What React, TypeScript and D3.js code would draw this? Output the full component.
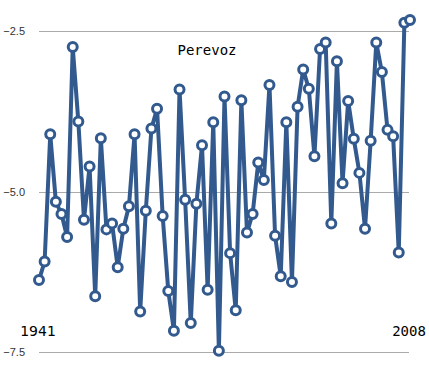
import React, { useEffect, useRef } from "react";
import * as d3 from "d3";

// Perevoz series, one value per year
const values: number[] = [
  -6.38, -6.09, -4.11, -5.16, -5.35, -5.71, -2.75, -3.91, -5.44, -4.61,
  -6.63, -4.17, -5.59, -5.5, -6.18, -5.58, -5.23, -4.11, -6.87, -5.3,
  -4.02, -3.71, -5.38, -6.55, -7.17, -3.41, -5.13, -7.05, -5.19, -4.28,
  -6.53, -3.92, -7.48, -3.52, -5.96, -6.85, -3.58, -5.64, -5.35, -4.55,
  -4.82, -3.34, -5.69, -6.32, -3.92, -6.41, -3.68, -3.1, -3.4, -4.45,
  -2.78, -2.68, -5.5, -2.97, -4.87, -3.59, -4.18, -4.71, -5.58, -4.21,
  -2.68, -3.14, -4.04, -4.14, -5.95, -2.37, -2.33,
];
const yTicks: number[] = [-2.5, -5.0, -7.5];
const startLabel = "1941";
const endLabel = "2008";
const title = "Perevoz";

const App = () => {
  const ref = useRef<SVGSVGElement>(null);

  useEffect(() => {
    const width = 429;
    const height = 368;
    const svg = d3.select(ref.current);
    svg.selectAll("*").remove();

    const x = d3
      .scaleLinear()
      .domain([0, values.length - 1])
      .range([39, 410]);
    const y = d3.scaleLinear().domain([-7.5, -2.5]).range([352, 31]);

    // gridlines + tick labels
    const grid = svg.append("g");
    grid
      .selectAll("line")
      .data(yTicks)
      .enter()
      .append("line")
      .attr("x1", 39)
      .attr("x2", 409)
      .attr("y1", (d) => Math.round(y(d)) + 0.5)
      .attr("y2", (d) => Math.round(y(d)) + 0.5)
      .attr("stroke", "#aaaaaa")
      .attr("stroke-width", 1);
    grid
      .selectAll("text")
      .data(yTicks)
      .enter()
      .append("text")
      .attr("x", 25)
      .attr("y", (d) => y(d) + 4)
      .attr("text-anchor", "end")
      .style("font-family", "'Liberation Sans', Arial, sans-serif")
      .style("font-size", "11px")
      .attr("fill", "#333")
      .text((d) => d3.format(".1f")(d));

    // title and year labels
    svg
      .append("text")
      .attr("x", 207)
      .attr("y", 55)
      .attr("text-anchor", "middle")
      .style("font-family", "'DejaVu Sans Mono', monospace")
      .style("font-size", "14px")
      .attr("fill", "#000")
      .text(title);
    svg
      .append("text")
      .attr("x", 38)
      .attr("y", 336)
      .attr("text-anchor", "middle")
      .style("font-family", "'DejaVu Sans', sans-serif")
      .style("font-size", "14px")
      .attr("fill", "#000")
      .text(startLabel);
    svg
      .append("text")
      .attr("x", 409)
      .attr("y", 336)
      .attr("text-anchor", "middle")
      .style("font-family", "'DejaVu Sans Mono', monospace")
      .style("font-size", "14px")
      .attr("fill", "#000")
      .text(endLabel);

    // series line
    const line = d3
      .line<number>()
      .x((_, i) => x(i))
      .y((d) => y(d));
    svg
      .append("path")
      .datum(values)
      .attr("d", line)
      .attr("fill", "none")
      .attr("stroke", "#325a8e")
      .attr("stroke-width", 4)
      .attr("stroke-linejoin", "round");

    // markers
    svg
      .append("g")
      .selectAll("circle")
      .data(values)
      .enter()
      .append("circle")
      .attr("cx", (_, i) => x(i))
      .attr("cy", (d) => y(d))
      .attr("r", 4.5)
      .attr("fill", "#fff")
      .attr("stroke", "#325a8e")
      .attr("stroke-width", 3);

    svg.attr("width", width).attr("height", height);
  }, []);

  return (
    <svg
      ref={ref}
      width={429}
      height={368}
      style={{ position: "absolute", left: 0, top: 0, background: "#fff" }}
    />
  );
};

export default App;
